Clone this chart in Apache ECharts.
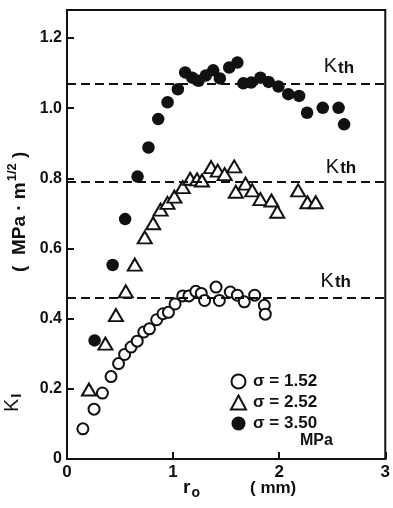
<!DOCTYPE html>
<html><head><meta charset="utf-8">
<script src="https://cdn.jsdelivr.net/npm/echarts@6/dist/echarts.min.js"></script>
<style>html,body{margin:0;padding:0;background:#fff}#c{width:393px;height:508px}</style>
</head><body><div id="c"></div>
<script>
// sigma = 1.52 MPa (open circles): [r0 (mm), K_I]
const s152 = [[0.15,0.086],[0.255,0.142],[0.334,0.188],[0.415,0.235],[0.486,0.272],[0.543,0.298],[0.604,0.319],[0.662,0.336],[0.724,0.362],[0.777,0.371],[0.845,0.397],[0.905,0.414],[0.956,0.418],[1.019,0.442],[1.091,0.465],[1.149,0.465],[1.214,0.478],[1.266,0.472],[1.297,0.452],[1.405,0.490],[1.436,0.452],[1.539,0.476],[1.606,0.467],[1.671,0.448],[1.769,0.467],[1.86,0.438],[1.869,0.413]];
// sigma = 2.52 MPa (triangles)
const s252 = [[0.207,0.198],[0.362,0.329],[0.461,0.41],[0.554,0.478],[0.639,0.554],[0.733,0.632],[0.812,0.672],[0.882,0.711],[0.947,0.730],[1.012,0.748],[1.091,0.775],[1.161,0.799],[1.226,0.797],[1.272,0.794],[1.358,0.832],[1.421,0.822],[1.486,0.812],[1.576,0.834],[1.591,0.762],[1.683,0.785],[1.746,0.766],[1.823,0.741],[1.927,0.737],[1.982,0.705],[2.179,0.766],[2.266,0.732],[2.344,0.732]];
// sigma = 3.50 MPa (filled circles)
const s350 = [[0.26,0.338],[0.43,0.553],[0.548,0.684],[0.665,0.805],[0.768,0.888],[0.86,0.969],[0.948,1.017],[1.045,1.054],[1.114,1.102],[1.18,1.087],[1.24,1.078],[1.308,1.093],[1.378,1.108],[1.441,1.085],[1.529,1.116],[1.606,1.13],[1.662,1.071],[1.736,1.073],[1.823,1.087],[1.9,1.075],[1.993,1.062],[2.086,1.04],[2.188,1.035],[2.263,0.987],[2.411,1.001],[2.56,1.001],[2.612,0.954]];
// threshold K_th levels
const kth = [1.075, 0.789, 0.464];
const kthLabelX = [2.42, 2.44, 2.39];
const seriesNames = ['σ = 1.52', 'σ = 2.52', 'σ = 3.50'];
const xTicks = [0, 1, 2, 3];

const FONT = 'Liberation Sans';
const chart = echarts.init(document.getElementById('c'), null, {renderer: 'canvas'});
const axisCommon = {
  axisLine: {show: true, lineStyle: {color: '#111', width: 2}},
  axisTick: {show: true, inside: true, length: 7, lineStyle: {color: '#111', width: 2}},
  splitLine: {show: false}
};
const option = {
  animation: false,
  backgroundColor: '#fff',
  grid: {left: 67, right: 3, top: 10, bottom: 49, show: true, borderColor: '#111', borderWidth: 2, backgroundColor: 'transparent'},
  xAxis: Object.assign({
    type: 'value', min: xTicks[0], max: xTicks[xTicks.length-1], interval: 1,
    axisLabel: {color: '#111', fontSize: 17, fontWeight: 'bold', fontFamily: FONT, margin: 5, formatter: v => String(v)}
  }, axisCommon),
  yAxis: Object.assign({
    type: 'value', min: 0, max: 1.28, interval: 0.2,
    axisLabel: {color: '#111', fontSize: 16, fontWeight: 'bold', fontFamily: FONT, margin: 5,
      formatter: v => { const r = Math.round(v*10)/10; if (Math.abs(v - r) > 1e-6 || Math.round(r*10) % 2) return ''; return r === 0 ? '0' : r.toFixed(1); }}
  }, axisCommon),
  legend: {
    orient: 'vertical', left: 225, top: 368, itemGap: 4, itemWidth: 15, itemHeight: 14,
    data: seriesNames,
    textStyle: {color: '#111', fontSize: 17, fontWeight: 'bold', fontFamily: FONT, padding: [0,0,0,2]}
  },
  series: [
    {name: seriesNames[0], type: 'scatter', data: s152, symbol: 'circle', symbolSize: 11,
      itemStyle: {color: '#fff', borderColor: '#111', borderWidth: 2, opacity: 1},
      markLine: {silent: true, symbol: 'none', label: {show: false},
        lineStyle: {color: '#111', width: 2, type: [9, 5]},
        data: kth.map(v => ({yAxis: v}))}},
    {name: seriesNames[1], type: 'scatter', data: s252, symbol: 'triangle', symbolSize: [14, 12],
      itemStyle: {color: '#fff', borderColor: '#111', borderWidth: 2, opacity: 1}},
    {name: seriesNames[2], type: 'scatter', data: s350, symbol: 'circle', symbolSize: 12.5,
      itemStyle: {color: '#111', borderColor: '#111', borderWidth: 0, opacity: 1}}
  ]
};
chart.setOption(option);

const g = [];
kth.forEach((v, i) => {
  const p = chart.convertToPixel({gridIndex: 0}, [kthLabelX[i], v]);
  g.push({type: 'text', left: p[0], top: p[1] - 25,
    style: {text: '{k|K}{s|th}', rich: {
      k: {fontSize: 20, fontFamily: FONT, fill: '#111', verticalAlign: 'bottom'},
      s: {fontSize: 17, fontFamily: FONT, fontWeight: 'bold', fill: '#111', padding: [9, 0, 0, 1]}
    }}});
});
g.push({type: 'text', left: 300, top: 433, style: {text: 'MPa', fontSize: 16, fontWeight: 'bold', fontFamily: FONT, fill: '#111'}});
g.push({type: 'text', left: 183, top: 478, style: {text: '{r|r}{o|o}', rich: {
  r: {fontSize: 19, fontWeight: 'bold', fontFamily: FONT, fill: '#111'},
  o: {fontSize: 14, fontWeight: 'bold', fontFamily: FONT, fill: '#111', padding: [12, 0, 0, 1]}
}}});
g.push({type: 'text', left: 250, top: 480, style: {text: '( mm)', fontSize: 17, fontWeight: 'bold', fontFamily: FONT, fill: '#111'}});
// y-axis title (rotated)
g.push({type: 'text', x: 12, y: 412, rotation: Math.PI/2,
  style: {text: '{k|K}{s|I}', align: 'left', verticalAlign: 'middle', rich: {
    k: {fontSize: 20, fontFamily: FONT, fill: '#111'},
    s: {fontSize: 15, fontWeight: 'bold', fontFamily: FONT, fill: '#111', padding: [10, 0, 0, 1]}
  }}});
g.push({type: 'text', x: 20, y: 272, rotation: Math.PI/2,
  style: {text: '{t|(  MPa · m}{u|1/2}{t| )}', align: 'left', verticalAlign: 'middle', rich: {
    t: {fontSize: 19, fontWeight: 'bold', fontFamily: FONT, fill: '#111'},
    u: {fontSize: 13, fontWeight: 'bold', fontFamily: FONT, fill: '#111', padding: [0, 0, 16, 1]}
  }}});
chart.setOption({graphic: g});
</script>
</body></html>
